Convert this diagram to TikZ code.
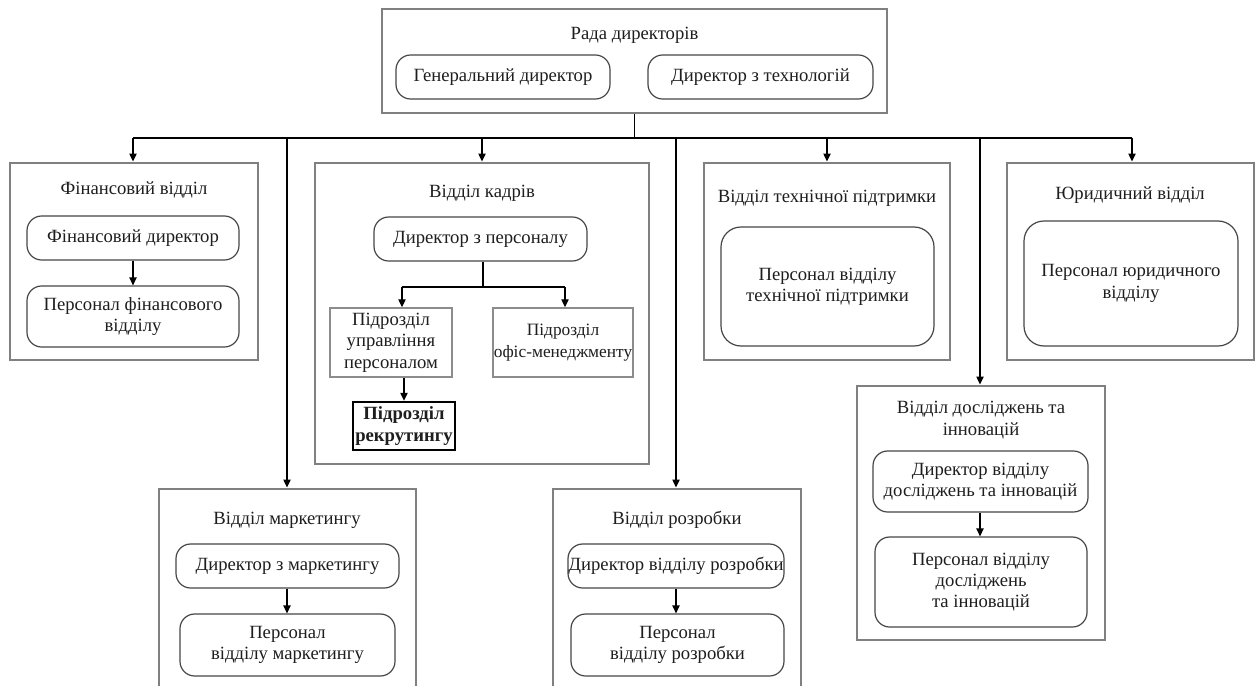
\documentclass[tikz,border=0pt]{standalone}
\usepackage{fontspec}
\setmainfont{Liberation Serif}
\usetikzlibrary{arrows.meta,calc}
\definecolor{grpgray}{RGB}{128,128,128}
\definecolor{unitgray}{RGB}{70,70,70}
\definecolor{subgray}{RGB}{140,140,140}
\definecolor{txt}{RGB}{30,30,30}
% a box given by its corners (x1,y1) and (x2,y2), in pixel units
\newcommand\cornerbox[7]{%
  \node[#1, minimum width={(#5-#3)*0.75pt}, minimum height={(#6-#4)*0.75pt}]
    (#2) at ({(#3+#5)/2},{(#4+#6)/2}) {#7};}
\begin{document}
\begin{tikzpicture}[x=0.75pt,y=-0.75pt,
  font=\fontsize{14}{16}\selectfont, text=txt,
  grpbox/.style={draw=grpgray,line width=2.2pt,inner sep=0pt},
  ttl/.style={inner sep=0pt,align=center},
  rbox/.style={draw=unitgray,line width=0.9pt,rounded corners=11pt,inner sep=0pt,align=center},
  bigrbox/.style={rbox,rounded corners=15pt},
  subbox/.style={draw=subgray,line width=1.1pt,inner sep=0pt,align=center},
  recbox/.style={draw=black,line width=1.8pt,inner sep=0pt,align=center,font=\fontsize{14}{16}\selectfont\bfseries},
  conn/.style={draw=black,line width=0.9pt},
  arr/.style={conn,-{Triangle[length=6pt,width=5.5pt]}}]
\useasboundingbox (0,0) rectangle (1259,685);
\clip (0,0) rectangle (1259,685);
\fill[white] (0,0) rectangle (1259,685);

% board of directors
\cornerbox{grpbox}{board}{382}{9}{887}{113}{}
\node[ttl] (boardT) at (634.5,35) {Рада директорів};
\cornerbox{rbox}{ceo}{396}{55}{610}{99}{Генеральний директор}
\cornerbox{rbox}{cto}{648}{55}{873}{99}{Директор з технологій}

% finance
\cornerbox{grpbox}{fin}{10}{163}{258}{360}{}
\node[ttl] (finT) at (134,190) {Фінансовий відділ};
\cornerbox{rbox}{findir}{27}{216}{239}{260}{Фінансовий директор}
\cornerbox{rbox}{finpers}{27}{286}{239}{347}{Персонал фінансового\\відділу}

% human resources
\cornerbox{grpbox}{hr}{315}{163}{649}{464}{}
\node[ttl] (hrT) at (482,193) {Відділ кадрів};
\cornerbox{rbox}{hrdir}{374}{217}{587}{261}{Директор з персоналу}
\cornerbox{subbox}{sub1}{330}{308}{452}{377}{Підрозділ\\управління\\персоналом}
\cornerbox{subbox,font=\fontsize{13}{16}\selectfont}{sub2}{493}{308}{633}{377}{Підрозділ\\офіс-менеджменту}
\cornerbox{recbox}{recr}{353}{402}{455}{450}{Підрозділ\\рекрутингу}

% technical support
\cornerbox{grpbox}{tech}{704}{163}{950}{360}{}
\node[ttl] (techT) at (827,198) {Відділ технічної підтримки};
\cornerbox{bigrbox}{techstaff}{721}{227}{934}{346}{Персонал відділу\\технічної підтримки}

% legal
\cornerbox{grpbox}{legal}{1007}{163}{1254}{360}{}
\node[ttl] (legalT) at (1130,195) {Юридичний відділ};
\cornerbox{bigrbox}{legstaff}{1024}{221}{1238}{346}{Персонал юридичного\\відділу}

% research and innovation
\cornerbox{grpbox}{res}{857}{386}{1105}{640}{}
\node[ttl] (resT) at (981,420) {Відділ досліджень та\\інновацій};
\cornerbox{rbox}{resdir}{873}{451}{1088}{512}{Директор відділу\\досліджень та інновацій}
\cornerbox{rbox}{respers}{875}{537}{1087}{627}{Персонал відділу\\досліджень\\та інновацій}

% marketing
\cornerbox{grpbox}{mkt}{159}{489}{416}{700}{}
\node[ttl] (mktT) at (287,520) {Відділ маркетингу};
\cornerbox{rbox}{mkdir}{176}{544}{399}{588}{Директор з маркетингу}
\cornerbox{rbox}{mkpers}{180}{614}{395}{676}{Персонал\\відділу маркетингу}

% development
\cornerbox{grpbox}{dev}{553}{489}{801}{700}{}
\node[ttl] (devT) at (677,520) {Відділ розробки};
\cornerbox{rbox}{devdir}{568}{544}{784}{588}{Директор відділу розробки}
\cornerbox{rbox}{devpers}{571}{614}{784}{676}{Персонал\\відділу розробки}

% distribution bus below the board
\coordinate (bFin) at (133,138);
\coordinate (bMkt) at (287,138);
\coordinate (bHr) at (482,138);
\coordinate (bDev) at (676,138);
\coordinate (bTech) at (827,138);
\coordinate (bRes) at (980,138);
\coordinate (bLegal) at (1132,138);
\draw[conn] (board.south) -- (board.south |- bFin);
\draw[conn] (bFin) -- (bLegal);
\draw[arr] (bFin) -- (bFin |- fin.north);
\draw[arr] (bMkt) -- (bMkt |- mkt.north);
\draw[arr] (bHr) -- (bHr |- hr.north);
\draw[arr] (bDev) -- (bDev |- dev.north);
\draw[arr] (bTech) -- (bTech |- tech.north);
\draw[arr] (bRes) -- (bRes |- res.north);
\draw[arr] (bLegal) -- (bLegal |- legal.north);

% links inside the departments
\draw[arr] (findir.south -| bFin) -- (finpers.north -| bFin);
\draw[arr] (mkdir.south -| bMkt) -- (mkpers.north -| bMkt);
\draw[arr] (devdir.south -| bDev) -- (devpers.north -| bDev);
\draw[arr] (resdir.south -| bRes) -- (respers.north -| bRes);

\coordinate (hrJ) at (483,287);
\coordinate (hrL) at (402,287);
\coordinate (hrR) at (565,287);
\draw[conn] (hrdir.south -| hrJ) -- (hrJ);
\draw[conn] (hrL) -- (hrR);
\draw[arr] (hrL) -- (hrL |- sub1.north);
\draw[arr] (hrR) -- (hrR |- sub2.north);
\draw[arr] (recr.north |- sub1.south) -- (recr.north);
\end{tikzpicture}
\end{document}
